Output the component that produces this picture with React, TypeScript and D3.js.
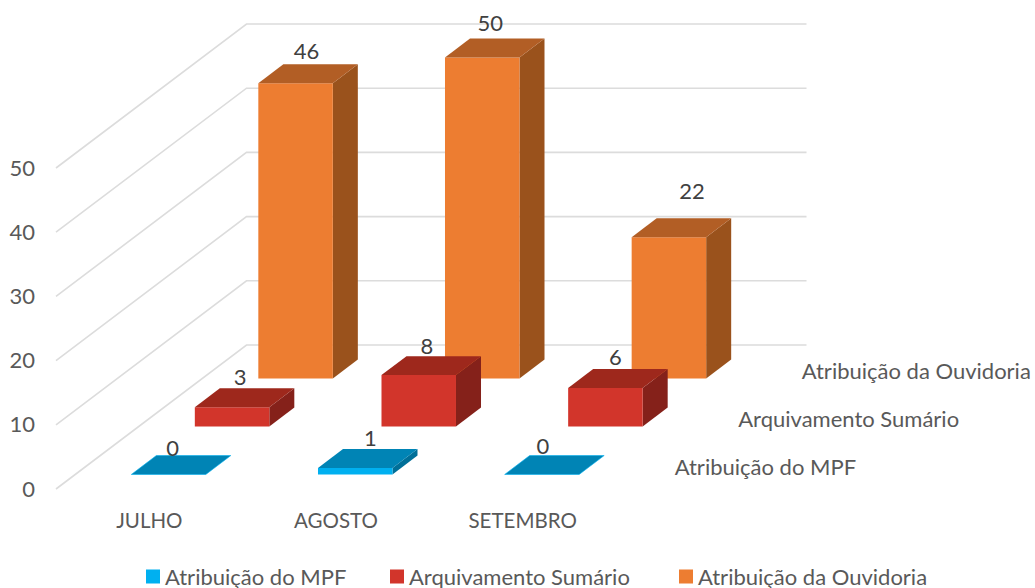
import React from "react";
import * as d3 from "d3";

const categories = ["JULHO", "AGOSTO", "SETEMBRO"];
const seriesNames = ["Atribuição do MPF", "Arquivamento Sumário", "Atribuição da Ouvidoria"];
const mpfValues = [0, 1, 0];
const arquivamentoValues = [3, 8, 6];
const ouvidoriaValues = [46, 50, 22];
const yTicks = [0, 10, 20, 30, 40, 50];

const seriesValues = [mpfValues, arquivamentoValues, ouvidoriaValues];
const seriesColors = [
  { front: "#00B0F0", top: "#0084B5", side: "#006F98" },
  { front: "#D2352B", top: "#9E281C", side: "#85211A" },
  { front: "#ED7D31", top: "#B25E25", side: "#9A521C" },
];
// Hand tuning of the value labels, in the same order as the series values.
const labelNudgeX = [[-21, -10, -24], [-17, -17, -15], [-14, -17, -2]];
const labelNudgeY = [[0, -3, -2], [-3, -2, -4], [-5, -8, -19]];

const ORIGIN_X = 56;
const ORIGIN_Y = 489;
const SHEAR_X = 190.5;
const SHEAR_Y = -144;

const x = d3.scaleBand<string>().domain(categories).range([0, 560]);
const y = d3.scaleLinear().domain([0, 50]).range([0, -321]);
const z = d3.scaleLinear().domain([0, 3]).range([0, 1]);

const project = (cx: number, v: number, d: number): [number, number] => [
  ORIGIN_X + cx + z(d) * SHEAR_X,
  ORIGIN_Y + y(v) + z(d) * SHEAR_Y,
];
const shape = d3.line<[number, number]>();
const BAR_W = 74.5;
const BAR_D = 0.394;
const FONT = "Lato, Carlito, sans-serif";

export default function App() {
  const xEnd = x.range()[1];
  return (
    <svg width={1035} height={588} style={{ position: "absolute", left: 0, top: 0, background: "#fff" }} fontFamily={FONT}>
      {yTicks.map((t) => {
        const a = project(0, t, 0);
        const b = project(0, t, 3);
        const c = project(xEnd, t, 3);
        return (
          <g key={t}>
            <path d={shape([a, b, c]) ?? ""} fill="none" stroke="#dcdcdc" strokeWidth={1.6} />
            <text x={35} y={a[1] - 1} textAnchor="end" dominantBaseline="central" fontSize={22} fill="#595959">{t}</text>
          </g>
        );
      })}

      {[2, 1, 0].map((si) =>
        categories.map((cat, ci) => {
          const v = seriesValues[si][ci];
          const colors = seriesColors[si];
          const cx0 = (x(cat) ?? 0) + (x.bandwidth() - BAR_W) / 2;
          const cx1 = cx0 + BAR_W;
          const d0 = si + (1 - BAR_D) / 2;
          const d1 = d0 + BAR_D;
          const front = [project(cx0, 0, d0), project(cx1, 0, d0), project(cx1, v, d0), project(cx0, v, d0)];
          const side = [project(cx1, 0, d0), project(cx1, 0, d1), project(cx1, v, d1), project(cx1, v, d0)];
          const top = [project(cx0, v, d0), project(cx1, v, d0), project(cx1, v, d1), project(cx0, v, d1)];
          const anchor = project((cx0 + cx1) / 2, v, d1);
          return (
            <g key={cat + si}>
              {v > 0 && <path d={(shape(side) ?? "") + "Z"} fill={colors.side} />}
              {v > 0 && <path d={(shape(front) ?? "") + "Z"} fill={colors.front} />}
              <path d={(shape(top) ?? "") + "Z"} fill={colors.top} stroke={v === 0 ? colors.front : "none"} strokeWidth={0.6} />
              <text
                x={anchor[0] + labelNudgeX[si][ci]}
                y={anchor[1] + labelNudgeY[si][ci]}
                textAnchor="middle"
                fontSize={22}
                fill="#404040"
              >
                {v}
              </text>
            </g>
          );
        })
      )}

      {categories.map((cat) => (
        <text
          key={cat}
          x={ORIGIN_X + (x(cat) ?? 0) + x.bandwidth() / 2}
          y={520}
          textAnchor="middle"
          dominantBaseline="central"
          fontSize={20.5}
          fill="#595959"
        >
          {cat}
        </text>
      ))}

      {seriesNames.map((name, si) => {
        const p = project(xEnd, 0, si + 0.5);
        return (
          <text key={name} x={p[0] + 27} y={p[1] + 1} dominantBaseline="central" fontSize={22} fill="#595959">
            {name}
          </text>
        );
      })}

      {seriesNames.map((name, si) => {
        const lx = [146, 390, 679][si];
        return (
          <g key={name}>
            <rect x={lx} y={569.5} width={14} height={14} fill={seriesColors[si].front} />
            <text x={lx + 19} y={576} dominantBaseline="central" fontSize={22} fill="#595959">{name}</text>
          </g>
        );
      })}
    </svg>
  );
}
